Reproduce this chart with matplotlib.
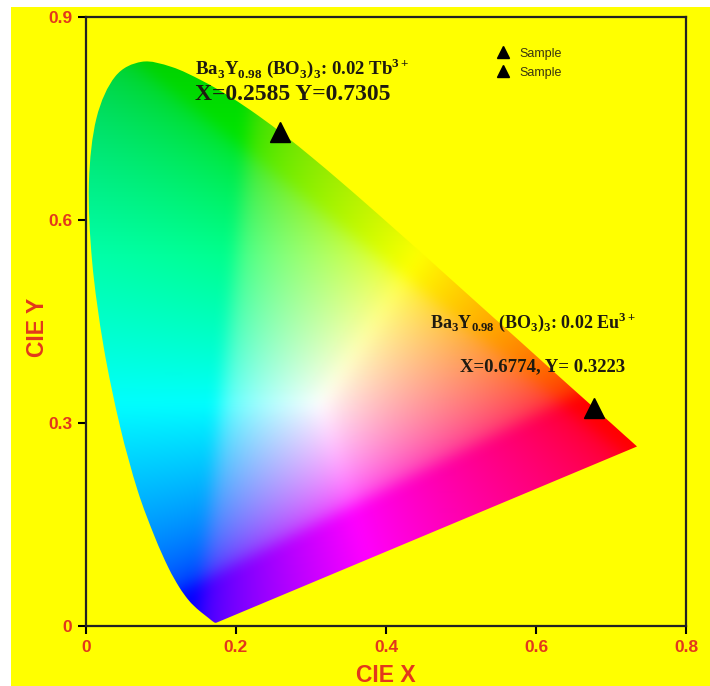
import matplotlib
matplotlib.use('Agg')
import matplotlib.pyplot as plt
import numpy as np
from matplotlib.path import Path
from matplotlib.patches import PathPatch, Rectangle

# CIE 1931 2-degree spectral locus (x, y), 380-700 nm every 5 nm
locus_x = [0.1741, 0.1740, 0.1738, 0.1736, 0.1733, 0.1730, 0.1726, 0.1721, 0.1714, 0.1703,
           0.1689, 0.1669, 0.1644, 0.1611, 0.1566, 0.1510, 0.1440, 0.1355, 0.1241, 0.1096,
           0.0913, 0.0687, 0.0454, 0.0235, 0.0082, 0.0039, 0.0139, 0.0389, 0.0743, 0.1142,
           0.1547, 0.1929, 0.2296, 0.2658, 0.3016, 0.3373, 0.3731, 0.4087, 0.4441, 0.4788,
           0.5125, 0.5448, 0.5752, 0.6029, 0.6270, 0.6482, 0.6658, 0.6801, 0.6915, 0.7006,
           0.7079, 0.7140, 0.7190, 0.7230, 0.7260, 0.7283, 0.7300, 0.7311, 0.7320, 0.7327,
           0.7334, 0.7340, 0.7344, 0.7346, 0.7347]
locus_y = [0.0050, 0.0050, 0.0049, 0.0049, 0.0048, 0.0048, 0.0048, 0.0048, 0.0051, 0.0058,
           0.0069, 0.0086, 0.0109, 0.0138, 0.0177, 0.0227, 0.0297, 0.0399, 0.0578, 0.0868,
           0.1327, 0.2007, 0.2950, 0.4127, 0.5384, 0.6548, 0.7502, 0.8120, 0.8338, 0.8262,
           0.8059, 0.7816, 0.7543, 0.7243, 0.6923, 0.6589, 0.6245, 0.5896, 0.5547, 0.5202,
           0.4866, 0.4544, 0.4242, 0.3965, 0.3725, 0.3514, 0.3340, 0.3197, 0.3083, 0.2993,
           0.2920, 0.2859, 0.2809, 0.2770, 0.2740, 0.2717, 0.2700, 0.2689, 0.2680, 0.2673,
           0.2666, 0.2660, 0.2656, 0.2654, 0.2653]

# samples
sample_x = [0.2585, 0.6774]
sample_y = [0.7305, 0.3223]
sample_labels = ['Sample', 'Sample']

tick_color = '#e2381c'
yellow = '#ffff00'
ink = '#1e1a10'
sans = 'Liberation Sans'
serif = 'Liberation Serif'


def box_blur(a, k):
    # separable box blur along both image axes
    out = a.copy()
    for axis in (0, 1):
        pad = [(0, 0)] * a.ndim
        pad[axis] = (k, k)
        p = np.pad(out, pad, mode='edge')
        c = np.cumsum(p, axis=axis)
        c = np.insert(c, 0, 0, axis=axis)
        n = out.shape[axis]
        hi = np.take(c, np.arange(2 * k + 1, 2 * k + 1 + n), axis=axis)
        lo = np.take(c, np.arange(0, n), axis=axis)
        out = (hi - lo) / (2 * k + 1)
    return out


fig = plt.figure(figsize=(7.1, 6.86), dpi=100, facecolor='white')
fig.patches.append(Rectangle((11 / 710, 0), 1, 1 - 7 / 686, transform=fig.transFigure,
                             facecolor=yellow, edgecolor='none', zorder=-10))
ax = fig.add_axes([86 / 710, 60 / 686, 600 / 710, 609 / 686])
ax.set_facecolor(yellow)

# colour image of the chromaticity plane (wide-gamut primaries, clipped + normalised)
gx, gy = np.meshgrid(np.linspace(0.0, 0.8, 400), np.linspace(0.002, 0.9, 450))
X = gx / gy
Z = (1 - gx - gy) / gy
Y = np.ones_like(gx)
M = np.array([[2.0413690, -0.5649464, -0.3446944],
              [-0.9692660, 1.8760108, 0.0415560],
              [0.0134474, -0.1183897, 1.0154096]])
rgb = np.einsum('ij,jkl->kli', M, np.stack([X, Y, Z]))
rgb = np.clip(rgb, 0, None)
rgb = rgb / rgb.max(axis=2, keepdims=True)
rgb = np.clip(rgb, 0, 1) ** (1 / 2.4)
rgb = np.clip(box_blur(box_blur(rgb, 5), 5), 0, 1)
rgb[..., 1] = rgb[..., 1] * (1 - 0.18 * np.clip((gy - 0.55) / 0.3, 0, 1))

# smooth outline through the locus points (Catmull-Rom -> cubic Bezier)
pts = np.column_stack([locus_x, locus_y])
verts = [tuple(pts[0])]
codes = [Path.MOVETO]
n = len(pts)
for i in range(n - 1):
    p0 = pts[max(i - 1, 0)]
    p1 = pts[i]
    p2 = pts[i + 1]
    p3 = pts[min(i + 2, n - 1)]
    verts += [tuple(p1 + (p2 - p0) / 6), tuple(p2 - (p3 - p1) / 6), tuple(p2)]
    codes += [Path.CURVE4] * 3
verts += [tuple(pts[0]), tuple(pts[0])]
codes += [Path.LINETO, Path.CLOSEPOLY]
path = Path(verts, codes)
patch = PathPatch(path, facecolor='none', edgecolor='none')
ax.add_patch(patch)
im = ax.imshow(rgb, origin='lower', extent=[0.0, 0.8, 0.002, 0.9],
               interpolation='bilinear', aspect='auto', zorder=1)
im.set_clip_path(patch)

for i in range(len(sample_x)):
    ax.plot(sample_x[i], sample_y[i], marker='^', color='black', markersize=15,
            linestyle='none', label=sample_labels[i], zorder=3)

leg = ax.legend(loc='upper left', bbox_to_anchor=(0.655, 0.968), frameon=False,
                prop={'family': sans, 'size': 9}, handletextpad=0.3,
                labelspacing=0.55, markerscale=0.6)
for t in leg.get_texts():
    t.set_color('#3a3410')

ax.text(0.145, 0.825, r'Ba$_\mathregular{3}$Y$_\mathregular{0.98}$ (BO$_\mathregular{3}$)$_\mathregular{3}$: 0.02 Tb$^\mathregular{3+}$',
        family=serif, fontweight='bold', fontsize=13.5, color=ink, va='center', zorder=4)
ax.text(0.145, 0.786, 'X=0.2585 Y=0.7305', family=serif, fontweight='bold',
        fontsize=17, color=ink, va='center', zorder=4)
ax.text(0.459, 0.449, r'Ba$_\mathregular{3}$Y$_\mathregular{0.98}$ (BO$_\mathregular{3}$)$_\mathregular{3}$: 0.02 Eu$^\mathregular{3+}$',
        family=serif, fontweight='bold', fontsize=13, color=ink, va='center', zorder=4)
ax.text(0.499, 0.383, 'X=0.6774, Y= 0.3223', family=serif, fontweight='bold',
        fontsize=13.5, color=ink, va='center', zorder=4)

ax.set_xlim(0, 0.8)
ax.set_ylim(0, 0.9)
ax.set_xticks([0, 0.2, 0.4, 0.6, 0.8])
ax.set_xticklabels(['0', '0.2', '0.4', '0.6', '0.8'])
ax.set_yticks([0, 0.3, 0.6, 0.9])
ax.set_yticklabels(['0', '0.3', '0.6', '0.9'])
ax.tick_params(direction='out', length=6, width=1.5, labelsize=12.5, labelcolor=tick_color, pad=4)
for lab in ax.get_xticklabels() + ax.get_yticklabels():
    lab.set_fontweight('bold')
    lab.set_family(sans)
for s in ax.spines.values():
    s.set_linewidth(1.6)
    s.set_color('#222222')

ax.set_xlabel('CIE X', fontsize=16.5, fontweight='bold', color=tick_color, family=sans)
ax.set_ylabel('CIE Y', fontsize=16.5, fontweight='bold', color=tick_color, family=sans)
ax.xaxis.set_label_coords(0.5, (626 - 676) / 609)
ax.yaxis.set_label_coords((37 - 86) / 600, (626 - 327) / 609)
ax.xaxis.label.set_va('center')
ax.yaxis.label.set_va('center')

fig.savefig('out.png', dpi=100, facecolor=fig.get_facecolor())
